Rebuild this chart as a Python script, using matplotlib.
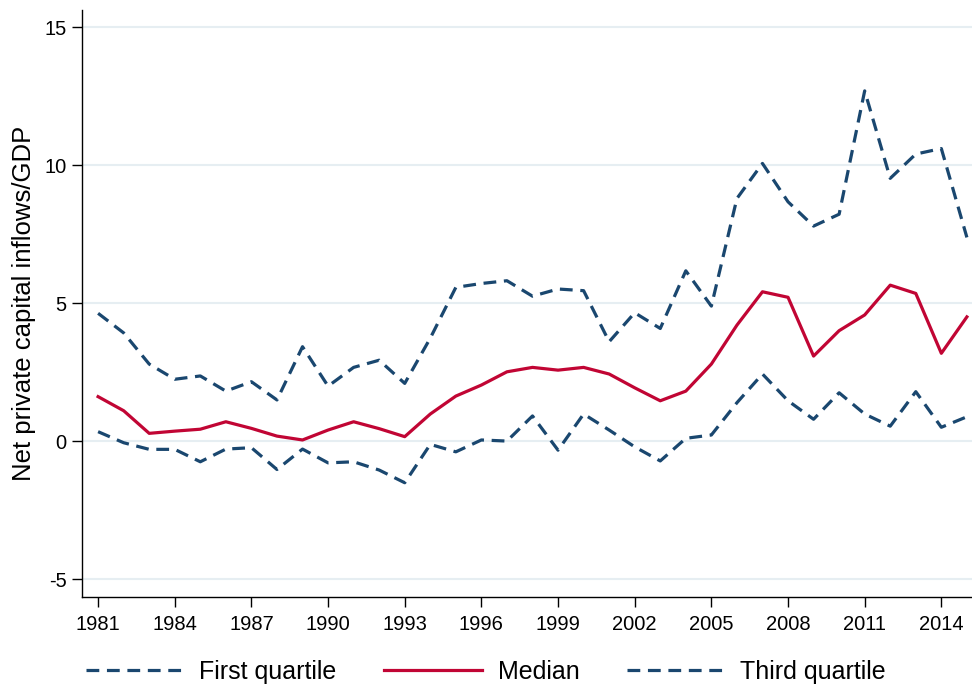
import matplotlib
matplotlib.use("Agg")
import matplotlib.pyplot as plt

years = list(range(1981, 2016))
first_quartile = [0.34, -0.06, -0.30, -0.30, -0.75, -0.29, -0.24, -1.03, -0.29, -0.79,
                  -0.75, -1.05, -1.51, -0.12, -0.39, 0.04, 0.00, 0.91, -0.33, 0.98,
                  0.40, -0.21, -0.72, 0.10, 0.22, 1.39, 2.43, 1.46, 0.79, 1.75,
                  0.98, 0.54, 1.79, 0.50, 0.88]
median = [1.61, 1.10, 0.28, 0.36, 0.43, 0.70, 0.46, 0.18, 0.04, 0.40,
          0.70, 0.45, 0.16, 0.98, 1.63, 2.03, 2.51, 2.67, 2.57, 2.67,
          2.43, 1.93, 1.46, 1.81, 2.79, 4.20, 5.41, 5.21, 3.08, 4.00,
          4.57, 5.65, 5.35, 3.18, 4.50]
third_quartile = [4.63, 3.92, 2.79, 2.24, 2.36, 1.81, 2.15, 1.49, 3.42, 1.99,
                  2.67, 2.93, 2.09, 3.73, 5.57, 5.71, 5.81, 5.25, 5.51, 5.45,
                  3.60, 4.65, 4.08, 6.17, 4.89, 8.79, 10.06, 8.67, 7.79, 8.22,
                  12.69, 9.52, 10.40, 10.60, 7.38]
xticks = list(range(1981, 2015, 3))
yticks = [-5, 0, 5, 10, 15]

blue = "#1a476f"
red = "#c10534"

plt.rcParams['font.family'] = ['Liberation Sans', 'DejaVu Sans']
plt.rcParams['axes.unicode_minus'] = False

fig = plt.figure(figsize=(9.72, 6.89), dpi=100)
ax = fig.add_axes([82/972, 1 - 597/689, (972 - 82)/972, (597 - 10)/689])

for y in yticks:
    ax.axhline(y, color="#e6eef2", lw=1.5, zorder=0)

dash = (4, 2.4)
l1, = ax.plot(years, first_quartile, color=blue, lw=2.3, dashes=dash, label="First quartile")
l2, = ax.plot(years, median, color=red, lw=2.3, label="Median")
l3, = ax.plot(years, third_quartile, color=blue, lw=2.3, dashes=dash, label="Third quartile")

ax.set_xlim(1980.37, 2015.2)
ax.set_ylim(-5.65, 15.62)
ax.set_xticks(xticks)
ax.set_yticks(yticks)
ax.tick_params(axis='both', direction='out', length=7, width=1, labelsize=14.5, color='black')
ax.tick_params(axis='x', pad=6)
ax.tick_params(axis='y', pad=4)
ax.spines['top'].set_visible(False)
ax.spines['right'].set_visible(False)
ax.spines['left'].set_linewidth(1)
ax.spines['bottom'].set_linewidth(1)
ax.set_ylabel("Net private capital inflows/GDP", fontsize=18.5, labelpad=6)

fig.legend(handles=[l1, l2, l3], loc='center', bbox_to_anchor=(0.5, 1 - 672/689),
           ncol=3, frameon=False, fontsize=18, handlelength=3.9, columnspacing=1.9,
           handletextpad=0.64)

fig.savefig("out.png", dpi=100)
